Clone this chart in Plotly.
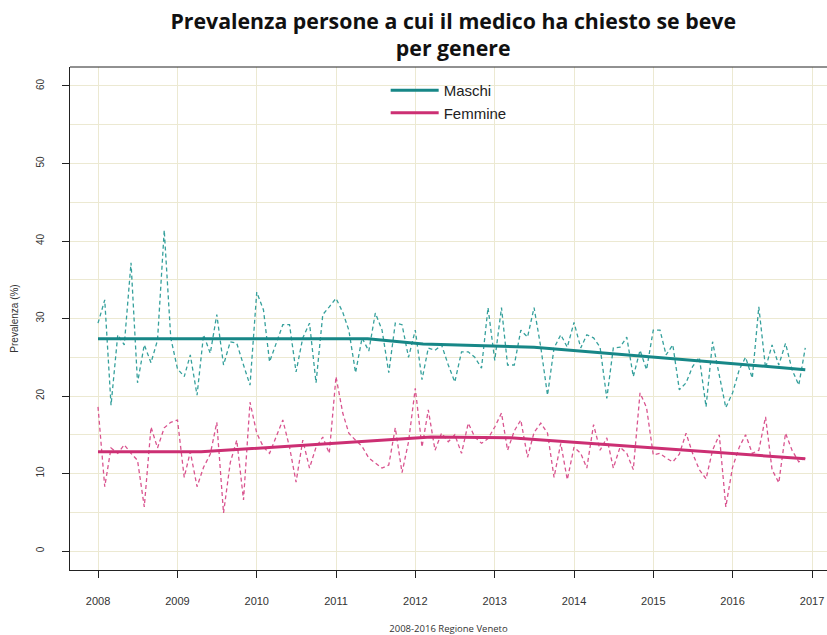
import pandas as pd
import plotly.graph_objects as go

# Monthly prevalence (%) 2008-01 .. 2016-12
maschi = [29.4, 32.4, 18.8, 27.9, 26.6, 37.2, 21.7, 26.6, 24.3, 27.2, 41.4, 27.5,
          23.5, 22.5, 25.3, 20.1, 27.9, 25.5, 30.5, 24.0, 27.0, 26.8, 24.0, 21.4,
          33.4, 31.1, 24.4, 26.8, 29.2, 29.2, 23.1, 27.5, 29.4, 21.7, 30.5, 31.5,
          32.6, 30.8, 28.5, 23.0, 27.5, 25.8, 30.7, 28.5, 23.0, 29.4, 29.2, 25.0,
          28.5, 22.1, 26.2, 25.9, 26.6, 24.0, 21.8, 25.7, 25.7, 25.0, 23.6, 31.4,
          24.6, 31.4, 24.0, 24.0, 28.5, 27.6, 31.4, 26.3, 20.1, 26.2, 27.9, 26.3,
          29.5, 26.2, 27.9, 27.5, 26.3, 19.7, 26.2, 26.3, 27.6, 22.5, 25.9, 23.4,
          28.5, 28.5, 25.3, 26.6, 20.8, 21.7, 23.8, 25.0, 18.6, 27.0, 22.5, 18.5,
          20.4, 23.4, 25.0, 22.3, 31.5, 23.6, 26.6, 24.0, 26.8, 23.4, 21.4, 26.2]

femmine = [18.6, 8.3, 13.3, 12.6, 13.7, 12.6, 11.7, 5.7, 16.0, 13.3, 15.9, 16.6,
           16.9, 9.5, 12.8, 8.3, 10.8, 12.5, 16.6, 4.9, 11.4, 14.3, 6.6, 19.2,
           15.2, 13.4, 12.6, 14.7, 16.9, 13.4, 8.9, 14.3, 10.7, 13.4, 14.7, 12.6,
           22.5, 17.8, 15.2, 14.3, 13.5, 12.0, 11.3, 10.7, 11.1, 15.9, 10.1, 14.1,
           21.0, 13.4, 18.2, 13.0, 15.2, 14.1, 15.0, 12.6, 16.5, 14.7, 13.9, 14.5,
           16.0, 17.8, 13.0, 15.5, 16.9, 12.1, 15.3, 16.5, 15.2, 9.5, 13.9, 9.2,
           13.4, 12.6, 10.7, 16.3, 13.0, 14.6, 10.7, 13.4, 12.6, 10.5, 20.4, 18.5,
           12.4, 12.6, 12.0, 11.5, 12.5, 15.2, 12.6, 10.5, 9.3, 13.0, 15.0, 5.7,
           10.8, 13.4, 15.0, 12.6, 13.0, 17.3, 10.5, 8.8, 15.2, 13.0, 11.5, 12.0]

months = pd.date_range("2008-01-01", periods=len(maschi), freq="MS")

# Trend (joinpoint) key points
trend_m_x = ["2008-01-01", "2011-05-27", "2012-02-06", "2013-07-01", "2016-12-01"]
trend_m_y = [27.4, 27.4, 26.7, 26.3, 23.4]
trend_f_x = ["2008-01-01", "2009-04-20", "2012-03-14", "2013-03-14", "2016-12-01"]
trend_f_y = [12.8, 12.8, 14.7, 14.6, 11.9]

teal_d = "#35a09c"
teal = "#178787"
pink_d = "#d9548f"
pink = "#cc2f73"
grid = "#ece9d2"

fig = go.Figure()
fig.add_trace(go.Scatter(x=months, y=maschi, mode="lines", showlegend=False,
                         line=dict(color=teal_d, width=1.3, dash="4px,3px")))
fig.add_trace(go.Scatter(x=months, y=femmine, mode="lines", showlegend=False,
                         line=dict(color=pink_d, width=1.3, dash="4px,3px")))
fig.add_trace(go.Scatter(x=trend_m_x, y=trend_m_y, mode="lines", name="Maschi",
                         legendgroup="m", line=dict(color=teal, width=3)))
fig.add_trace(go.Scatter(x=trend_f_x, y=trend_f_y, mode="lines", name="Femmine",
                         legendgroup="f", line=dict(color=pink, width=3)))

fig.update_layout(
    width=827, height=635,
    margin=dict(l=70, r=0, t=67, b=65, autoexpand=False),
    paper_bgcolor="white", plot_bgcolor="white",
    title=dict(text="<b>Prevalenza persone a cui il medico ha chiesto se beve<br>per genere</b>",
               x=0.548, xanchor="center", y=0.955, yanchor="top",
               font=dict(family="Open Sans", size=21.3, color="#111")),
    legend=dict(x=0.417, y=0.986, xanchor="left", yanchor="top",
                bgcolor="rgba(0,0,0,0)", font=dict(family="Liberation Sans", size=15, color="#222"),
                traceorder="grouped", tracegroupgap=0, itemwidth=48),
    xaxis=dict(range=["2007-08-25", "2017-03-11"], type="date", automargin=False,
               tick0="2008-01-01", dtick="M12", tickformat="%Y",
               showgrid=True, gridcolor=grid, gridwidth=1,
               showline=True, linecolor="#222", linewidth=1,
               ticks="outside", ticklen=7, tickcolor="#222",
               ticklabelstandoff=14,
               tickfont=dict(family="Liberation Sans", size=11, color="#333"),
               title=dict(text="2008-2016 Regione Veneto", standoff=19,
                          font=dict(family="Open Sans", size=9.5, color="#333")),
               zeroline=False),
    yaxis=dict(range=[-2.45, 62.45], tick0=0, dtick=10, automargin=False,
               showgrid=True, gridcolor=grid, gridwidth=1,
               minor=dict(dtick=5, showgrid=True, gridcolor=grid, gridwidth=1),
               showline=True, linecolor="#222", linewidth=1,
               ticks="outside", ticklen=7, tickcolor="#222", tickangle=-90,
               ticklabelstandoff=14,
               tickfont=dict(family="Liberation Sans", size=10, color="#333"),
               title=dict(text="Prevalenza (%)", standoff=14,
                          font=dict(family="Liberation Sans", size=10, color="#333")),
               zeroline=False),
    shapes=[dict(type="line", xref="paper", yref="paper", x0=0, x1=1, y0=1, y1=1,
                 line=dict(color="#222", width=1))],
)

fig.write_html("out.html", config={"displayModeBar": False},
               post_script="document.body.style.margin='0';document.body.style.overflow='hidden';")
